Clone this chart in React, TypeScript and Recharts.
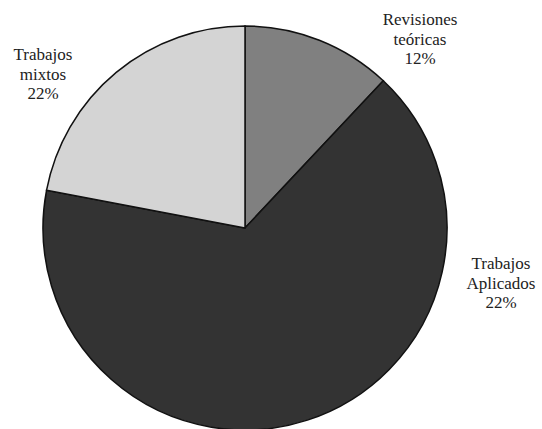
import React from "react";
import { PieChart, Pie, Cell } from "recharts";

const categories = ["Revisiones teóricas", "Trabajos Aplicados", "Trabajos mixtos"];
const values = [12, 66, 22];
const labelLines = [
  ["Revisiones", "teóricas", "12%"],
  ["Trabajos", "Aplicados", "22%"],
  ["Trabajos", "mixtos", "22%"],
];

const colors = ["#808080", "#333333", "#d4d4d4"];

const W = 542;
const H = 429;
const PIE_CX = 245;
const PIE_CY = 228;
// label anchor offsets relative to pie centre (layout only)
const labelOffsets = [
  { dx: 175, dy: -203 },
  { dx: 256, dy: 41 },
  { dx: -202, dy: -168 },
];
const LINE_H = 19.5;

const data = categories.map((name, i) => ({ name, value: values[i] }));

const FONT = "Liberation Serif";

const renderLabel = (props: any) => {
  const { cx, cy, index } = props;
  const off = labelOffsets[index];
  const x = cx + off.dx;
  const y = cy + off.dy;
  return (
    <g key={"lbl" + index}>
      {labelLines[index].map((l, j) => (
        <text
          key={j}
          x={x}
          y={y + j * LINE_H}
          textAnchor="middle"
          fill="#222"
          fontFamily={FONT}
          fontSize={17}
          style={{ fontFamily: FONT, fontSize: 17 }}
        >
          {l}
        </text>
      ))}
    </g>
  );
};

export default function App() {
  return (
    <div style={{ position: "absolute", left: 0, top: 0, width: W, height: H, background: "#fff" }}>
      <PieChart width={W} height={H} margin={{ top: 0, right: 0, bottom: 0, left: 0 }}>
        <Pie
          data={data}
          dataKey="value"
          nameKey="name"
          cx={PIE_CX}
          cy={PIE_CY}
          outerRadius={202}
          startAngle={90}
          endAngle={-270}
          stroke="#111"
          strokeWidth={1.5}
          label={renderLabel}
          labelLine={false}
          isAnimationActive={false}
        >
          {data.map((d, i) => (
            <Cell key={d.name} fill={colors[i]} />
          ))}
        </Pie>
      </PieChart>
    </div>
  );
}
